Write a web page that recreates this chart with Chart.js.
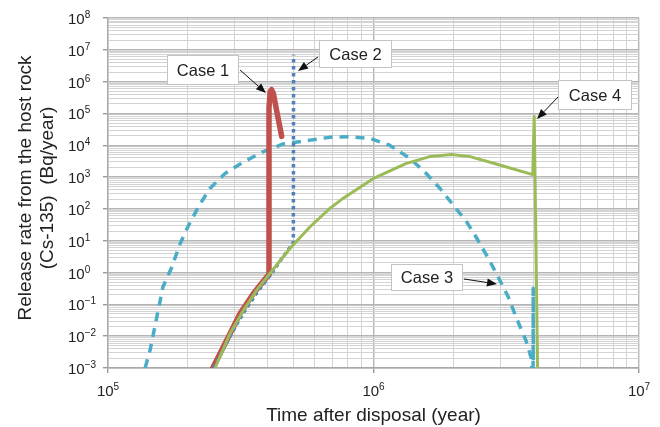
<!DOCTYPE html>
<html>
<head>
<meta charset="utf-8">
<script src="https://cdn.jsdelivr.net/npm/chart.js@4.4.1/dist/chart.umd.min.js"></script>
<style>
  html, body { margin: 0; padding: 0; background: #fff; }
  canvas { display: block; }
</style>
</head>
<body>
<canvas id="releaseChart" width="660" height="427"></canvas>
<script>
// ===== Data: time after disposal (year) / release rate (Bq/year) =====
const case1Years = [2.48e5, 2.84e5, 3.14e5, 3.53e5, 3.96e5, 4.02e5, 4.04e5, 4.08e5, 4.13e5, 4.2e5, 4.31e5, 4.51e5];
const case1Rates = [1e-3, 9.5e-3, 5.1e-2, 0.22, 0.72, 0.85, 1.5e5, 4.8e5, 5.6e5, 4.2e5, 1.3e5, 1.9e4];

const case2Years = [2.5e5, 2.88e5, 3.24e5, 3.63e5, 4.07e5, 4.55e5, 4.99e5, 5.0e5];
const case2Rates = [1e-3, 1.0e-2, 5.5e-2, 0.23, 0.8, 3.0, 8.5, 7e6];

const case3Years = [1.38e5, 1.44e5, 1.5e5, 1.61e5, 1.74e5, 1.87e5, 2.0e5, 2.19e5, 2.42e5, 2.76e5, 3.24e5, 3.85e5,
  4.57e5, 5.77e5, 6.86e5, 8.15e5, 9.7e5, 1.15e6, 1.37e6, 1.58e6, 1.78e6, 2.0e6, 2.24e6, 2.45e6, 2.71e6,
  2.95e6, 3.22e6, 3.46e6, 3.75e6, 3.93e6, 3.99e6, 3.995e6, 4.0e6];
const case3Rates = [1e-3, 3.6e-3, 1.9e-2, 0.35, 1.5, 8.2, 27.5, 117, 440, 1300, 3000, 6300,
  1.1e4, 1.45e4, 1.8e4, 1.85e4, 1.65e4, 1e4, 3900, 1300, 440, 130, 40, 12, 2.75,
  0.72, 0.17, 0.036, 7.4e-3, 2e-3, 1e-4, 0.32, 1e-4];

const case4Years = [2.53e5, 2.88e5, 3.24e5, 3.63e5, 4.07e5, 4.85e5, 5.77e5, 6.86e5, 7.59e5, 1.0e6, 1.33e6,
  1.63e6, 1.97e6, 2.31e6, 2.99e6, 3.98e6, 4.03e6, 4.15e6];
const case4Rates = [1e-3, 1.2e-2, 6.6e-2, 0.28, 0.93, 5.8, 27.5, 105, 200, 910, 2700,
  4400, 5100, 4400, 2400, 1200, 8e4, 1e-3];

const xTickExps = [5, 6, 7];
const yTickExps = [-3, -2, -1, 0, 1, 2, 3, 4, 5, 6, 7, 8];
const caseNames = ['Case 1', 'Case 2', 'Case 3', 'Case 4'];

const FONT = '"Liberation Sans", Arial, Helvetica, sans-serif';

function toPoints(xs, ys) {
  return xs.map((x, i) => ({ x: x, y: ys[i] }));
}

// 1..9 x 10^n grid lines for every decade
function logTicks(exps) {
  const ticks = [];
  exps.forEach((e, i) => {
    ticks.push({ value: Math.pow(10, e), major: true });
    if (i < exps.length - 1) {
      for (let m = 2; m <= 9; m++) ticks.push({ value: m * Math.pow(10, e), major: false });
    }
  });
  return ticks;
}

function drawPow(ctx, x, y, exp, align) {
  const base = '10';
  const sup = exp < 0 ? '\u2212' + Math.abs(exp) : String(exp);
  ctx.font = '15px ' + FONT;
  const wb = ctx.measureText(base).width;
  ctx.font = '10px ' + FONT;
  const ws = ctx.measureText(sup).width;
  const left = align === 'center' ? x - (wb + ws) / 2 : x;
  ctx.textAlign = 'left';
  ctx.textBaseline = 'alphabetic';
  ctx.font = '15px ' + FONT;
  ctx.fillText(base, left, y);
  ctx.font = '10px ' + FONT;
  ctx.fillText(sup, left + wb, y - 6);
}

// ===== Labels: ticks with superscripts, axis titles =====
const labelPlugin = {
  id: 'labels',
  afterDraw(chart) {
    const { ctx, scales } = chart;
    ctx.save();
    ctx.fillStyle = '#222';
    yTickExps.forEach(e => {
      const py = scales.y.getPixelForValue(Math.pow(10, e));
      drawPow(ctx, 68, py + 6, e, 'left');
    });
    xTickExps.forEach(e => {
      const px = scales.x.getPixelForValue(Math.pow(10, e));
      drawPow(ctx, px, 396, e, 'center');
    });

    ctx.font = '19px ' + FONT;
    ctx.textAlign = 'center';
    ctx.textBaseline = 'alphabetic';
    ctx.fillText('Time after disposal (year)', (chart.chartArea.left + chart.chartArea.right) / 2, 421);

    ctx.translate(0, 188);
    ctx.rotate(-Math.PI / 2);
    ctx.fillText('Release rate from the host rock', 0, 31);
    ctx.fillText('(Cs-135)  (Bq/year)', 0, 53);
    ctx.restore();
  }
};

// ===== Callouts =====
const callouts = [
  { text: caseNames[0], box: [167, 55, 72, 30], from: [240, 70], to: [266, 93] },
  { text: caseNames[1], box: [319, 40, 73, 28], from: [318, 57], to: [298, 71] },
  { text: caseNames[2], box: [391, 264, 72, 27], from: [464, 279], to: [497, 284] },
  { text: caseNames[3], box: [558, 80, 74, 30], from: [558, 97], to: [537, 119] }
];

const calloutPlugin = {
  id: 'callouts',
  afterDatasetsDraw(chart) {
    const ctx = chart.ctx;
    ctx.save();
    callouts.forEach(c => {
      const [bx, by, bw, bh] = c.box;
      ctx.fillStyle = '#fff';
      ctx.fillRect(bx, by, bw, bh);
      ctx.strokeStyle = '#c4c4c4';
      ctx.lineWidth = 1;
      ctx.strokeRect(bx + 0.5, by + 0.5, bw - 1, bh - 1);
      ctx.fillStyle = '#222';
      ctx.font = '16.5px ' + FONT;
      ctx.textAlign = 'center';
      ctx.textBaseline = 'middle';
      ctx.fillText(c.text, bx + bw / 2, by + bh / 2 + 1);

      // arrow
      const [x1, y1] = c.from, [x2, y2] = c.to;
      const ang = Math.atan2(y2 - y1, x2 - x1);
      const len = 10, half = 4;
      const bxA = x2 - len * Math.cos(ang), byA = y2 - len * Math.sin(ang);
      ctx.strokeStyle = '#111';
      ctx.lineWidth = 1;
      ctx.beginPath();
      ctx.moveTo(x1, y1);
      ctx.lineTo(bxA, byA);
      ctx.stroke();
      ctx.fillStyle = '#111';
      ctx.beginPath();
      ctx.moveTo(x2, y2);
      ctx.lineTo(bxA + half * Math.sin(ang), byA - half * Math.cos(ang));
      ctx.lineTo(bxA - half * Math.sin(ang), byA + half * Math.cos(ang));
      ctx.closePath();
      ctx.fill();
    });
    ctx.restore();
  }
};

const gridOpts = {
  color: c => c.tick && c.tick.major ? '#b5b5b5' : '#d3d3d3',
  lineWidth: c => c.tick && c.tick.major ? 1.4 : 1,
  tickColor: c => c.tick && c.tick.major ? '#9a9a9a' : 'rgba(0,0,0,0)',
  tickLength: 5
};

new Chart(document.getElementById('releaseChart'), {
  type: 'line',
  data: {
    datasets: [
      {
        label: caseNames[3],
        data: toPoints(case4Years, case4Rates),
        borderColor: '#9bbb59',
        borderWidth: 3,
        order: 1
      },
      {
        label: caseNames[1],
        data: toPoints(case2Years, case2Rates),
        borderColor: '#4f81bd',
        borderWidth: 3.5,
        borderDash: [3.5, 3.5],
        order: 2
      },
      {
        label: caseNames[0],
        data: toPoints(case1Years, case1Rates),
        borderColor: '#c0504d',
        borderWidth: 5.5,
        borderCapStyle: 'round',
        order: 3
      },
      {
        label: caseNames[2],
        data: toPoints(case3Years, case3Rates),
        borderColor: '#4bacc6',
        borderWidth: 3.5,
        borderDash: [9, 7],
        order: 4
      }
    ]
  },
  options: {
    responsive: false,
    animation: false,
    devicePixelRatio: 1,
    layout: { padding: { top: 18, right: 21, left: 0, bottom: 0 } },
    elements: {
      point: { radius: 0, hoverRadius: 0 },
      line: { tension: 0, borderJoinStyle: 'round', fill: false }
    },
    plugins: {
      legend: { display: false },
      tooltip: { enabled: false }
    },
    scales: {
      x: {
        type: 'logarithmic',
        min: 1e5,
        max: 1e7,
        afterBuildTicks: s => { s.ticks = logTicks(xTickExps); },
        afterFit: s => { s.height = 59; },
        ticks: { display: false },
        grid: gridOpts,
        border: { color: '#a8a8a8', width: 1.4 }
      },
      y: {
        type: 'logarithmic',
        min: 1e-3,
        max: 1e8,
        afterBuildTicks: s => { s.ticks = logTicks(yTickExps); },
        afterFit: s => { s.width = 108; },
        ticks: { display: false },
        grid: gridOpts,
        border: { color: '#a8a8a8', width: 1.4 }
      }
    }
  },
  plugins: [labelPlugin, calloutPlugin]
});
</script>
</body>
</html>
